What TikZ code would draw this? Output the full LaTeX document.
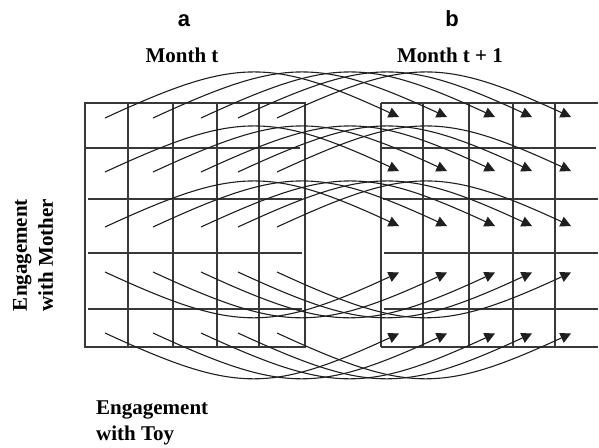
\documentclass[tikz,border=0pt]{standalone}
\usepackage{fontspec}
\setmainfont{Liberation Serif}
\newfontfamily\panelfont{Liberation Sans}
\usetikzlibrary{arrows.meta}
\begin{document}
\begin{tikzpicture}[x=1pt,y=-1pt,
  gridline/.style={line width=1.3pt, draw=black!78},
  flow/.style={line width=1.1pt, draw=black!88, -{Triangle[length=10.5pt,width=10.5pt]}},
  panel/.style={font=\panelfont\bfseries\fontsize{22}{26}\selectfont, anchor=base, inner sep=0pt},
  heading/.style={font=\bfseries\fontsize{21}{26}\selectfont, inner sep=0pt},
]
\useasboundingbox (0,0) rectangle (599,447);

% panel letters and column headings
\node[panel] (pa) at (184,27) {a};
\node[panel] (pb) at (452,27) {b};
\node[heading, anchor=base] (ma) at (182,62) {Month t};
\node[heading, anchor=base] (mb) at (450,62) {Month t + 1};

% axis labels
\node[heading, rotate=90, align=center] (ym) at (33,255) {Engagement\\with Mother};
\node[heading, anchor=north west, align=left] (xt) at (96,401) {Engagement\\with Toy};

% left grid (month t)
\draw[gridline] (85,103) rectangle (305,347);
\foreach \x in {128,173,217,259} \draw[gridline] (\x,103) -- (\x,347);
\draw[gridline] (85,148) -- (300,148);
\foreach \y in {199,253,309} \draw[gridline] (88,\y) -- (302,\y);

% right grid (month t + 1), open on the right
\foreach \x in {381,423,469,513,555} \draw[gridline] (\x,103) -- (\x,347);
\draw[gridline] (381,103) -- (598,103);
\draw[gridline] (381,148) -- (596,148);
\draw[gridline] (383,199) -- (598,199);
\draw[gridline] (384,253) -- (598,253);
\draw[gridline] (384,309) -- (598,309);
\draw[gridline] (381,347) -- (598,347);

% start points in month t and targets in month t + 1
\foreach \r/\y in {1/118,2/172,3/227} {
  \foreach \c/\x in {1/105,2/153,3/201,4/238,5/277} {
    \coordinate (s\r\c) at (\x,\y);
    \coordinate (e\r\c) at (\x+294,\y-1);
  }
}
\foreach \r/\y in {4/272,5/333} {
  \foreach \c/\x in {1/105,2/153,3/201,4/238,5/277} {
    \coordinate (s\r\c) at (\x,\y);
    \coordinate (e\r\c) at (\x+294,\y+0.5);
  }
}

% transitions: upper rows arc over, lower rows dip under
\foreach \r in {1,2,3} {
  \foreach \c in {1,...,5} {
    \draw[flow] (s\r\c) .. controls +(130,-60) and +(-130,-60) .. (e\r\c);
  }
}
\foreach \r in {4,5} {
  \foreach \c in {1,...,5} {
    \draw[flow] (s\r\c) .. controls +(130,60) and +(-130,60) .. (e\r\c);
  }
}
\end{tikzpicture}
\end{document}
